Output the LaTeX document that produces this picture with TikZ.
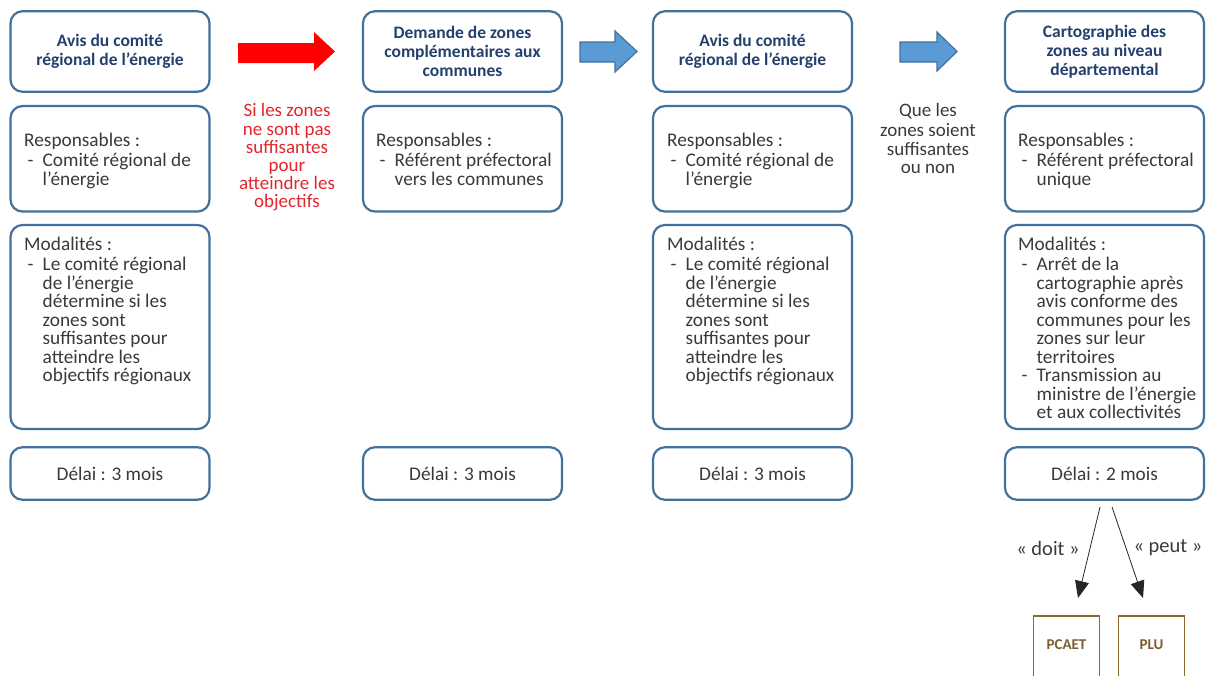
\documentclass[tikz,border=0pt]{standalone}
\usepackage{fontspec}
\setmainfont{Carlito}
\usetikzlibrary{arrows.meta}
\definecolor{boxblue}{HTML}{41719C}
\definecolor{titleblue}{HTML}{24406E}
\definecolor{bodytext}{HTML}{3A3A3A}
\definecolor{arrowfill}{HTML}{5B9BD5}
\definecolor{redarrow}{HTML}{FF0000}
\definecolor{redtext}{HTML}{E3262B}
\definecolor{brownline}{HTML}{8B6B2E}
\definecolor{browntext}{HTML}{7A5C2E}
\newcommand\itm{\makebox[18.5pt][l]{\hspace{3.5pt}-}}
\newcommand\ind{\hspace*{18.5pt}}
\begin{document}
\begin{tikzpicture}[x=1pt,y=-1pt,
  box/.style={draw=boxblue, line width=2.2pt, rounded corners=12pt, fill=white, inner sep=0pt, minimum width=199pt},
  titlebox/.style={box, minimum height=80.5pt, font=\fontsize{17.5}{18.8}\selectfont\bfseries, text=titleblue, align=center},
  respbox/.style={box, minimum height=105.5pt},
  modbox/.style={box, minimum height=204pt},
  delaibox/.style={box, minimum height=52.5pt, font=\fontsize{19.3}{18.5}\selectfont, text=bodytext},
  body/.style={font=\fontsize{19.3}{18.5}\selectfont, text=bodytext, align=left, anchor=north west, inner sep=0pt},
  cond/.style={font=\fontsize{19}{18.2}\selectfont, align=center, anchor=north, inner sep=0pt},
  brownbox/.style={draw=brownline, line width=1.8pt, minimum width=66pt, minimum height=75pt, anchor=north, inner sep=0pt},
  browntxt/.style={font=\fontsize{15}{16}\selectfont\bfseries, text=browntext},
  arrowlbl/.style={font=\fontsize{20.5}{22}\selectfont, text=bodytext},
  thin/.style={line width=0.8pt, draw=black!85, -{Triangle[length=17pt,width=14pt]}}]
\useasboundingbox (0,0) rectangle (1206,675);
\clip (0,0) rectangle (1206,675);

% column 1
\node[titlebox] (t1) at (110,51.5) {Avis du comité\\régional de l’énergie};
\node[respbox] (r1) at (110,158.8) {};
\node[body] (r1t) at (24,133) {\strut Responsables :\\\itm Comité régional de\\\ind l’énergie};
\node[modbox] (m1) at (110,327) {};
\node[body] (m1t) at (24,237) {\strut Modalités :\\\itm Le comité régional\\\ind de l’énergie\\\ind détermine si les\\\ind zones sont\\\ind suffisantes pour\\\ind atteindre les\\\ind objectifs régionaux};
\node[delaibox] (d1) at (110,473.5) {Délai : 3 mois};

% red arrow + condition
\fill[redarrow] (238,43) -- (314,43) -- (314,32) -- (335,51.5) -- (314,71) -- (314,63) -- (238,63) -- cycle;
\node[cond, text=redtext] (c1) at (287,103.5) {\strut Si les zones\\ne sont pas\\suffisantes\\pour\\atteindre les\\objectifs};

% column 2
\node[titlebox] (t2) at (462.5,51.5) {Demande de zones\\complémentaires aux\\communes};
\node[respbox] (r2) at (462.5,158.8) {};
\node[body] (r2t) at (376,133) {\strut Responsables :\\\itm Référent préfectoral\\\ind vers les communes};
\node[delaibox] (d2) at (462.5,473.5) {Délai : 3 mois};

% blue arrow 1
\filldraw[fill=arrowfill, draw=boxblue, line width=1.2pt] (580,42) -- (615,42) -- (615,31) -- (637,51.5) -- (615,72) -- (615,62) -- (580,62) -- cycle;

% column 3
\node[titlebox] (t3) at (752.5,51.5) {Avis du comité\\régional de l’énergie};
\node[respbox] (r3) at (752.5,158.8) {};
\node[body] (r3t) at (667,133) {\strut Responsables :\\\itm Comité régional de\\\ind l’énergie};
\node[modbox] (m3) at (752.5,327) {};
\node[body] (m3t) at (667,237) {\strut Modalités :\\\itm Le comité régional\\\ind de l’énergie\\\ind détermine si les\\\ind zones sont\\\ind suffisantes pour\\\ind atteindre les\\\ind objectifs régionaux};
\node[delaibox] (d3) at (752.5,473.5) {Délai : 3 mois};

% blue arrow 2 + condition
\filldraw[fill=arrowfill, draw=boxblue, line width=1.2pt] (900,42) -- (937,42) -- (937,32) -- (957,51.5) -- (937,71) -- (937,62) -- (900,62) -- cycle;
\node[cond, text=bodytext, font=\fontsize{19}{18.6}\selectfont] (c2) at (928,103.5) {\strut Que les\\zones soient\\suffisantes\\ou non};

% column 4
\node[titlebox] (t4) at (1104.5,51.5) {Cartographie des\\zones au niveau\\départemental};
\node[respbox] (r4) at (1104.5,158.8) {};
\node[body] (r4t) at (1018,133) {\strut Responsables :\\\itm Référent préfectoral\\\ind unique};
\node[modbox] (m4) at (1104.5,327) {};
\node[body] (m4t) at (1018,237) {\strut Modalités :\\\itm Arrêt de la\\\ind cartographie après\\\ind avis conforme des\\\ind communes pour les\\\ind zones sur leur\\\ind territoires\\\itm Transmission au\\\ind ministre de l’énergie\\\ind et aux collectivités};
\node[delaibox] (d4) at (1104.5,473.5) {Délai : 2 mois};

% bottom
\coordinate (s1) at (1100,507);
\coordinate (e1) at (1078,598);
\coordinate (s2) at (1112,507);
\coordinate (e2) at (1143,598);
\draw[thin] (s1) -- (e1);
\draw[thin] (s2) -- (e2);
\node[arrowlbl] (ldoit) at (1048,548) {« doit »};
\node[arrowlbl] (lpeut) at (1168,548) {« peut »};
\node[brownbox] (pcaet) at (1066.5,615) {};
\node[browntxt] (pcaett) at ([yshift=-30pt]pcaet.north) {PCAET};
\node[brownbox] (plu) at (1151.5,615) {};
\node[browntxt] (plut) at ([yshift=-30pt]plu.north) {PLU};
\end{tikzpicture}
\end{document}
